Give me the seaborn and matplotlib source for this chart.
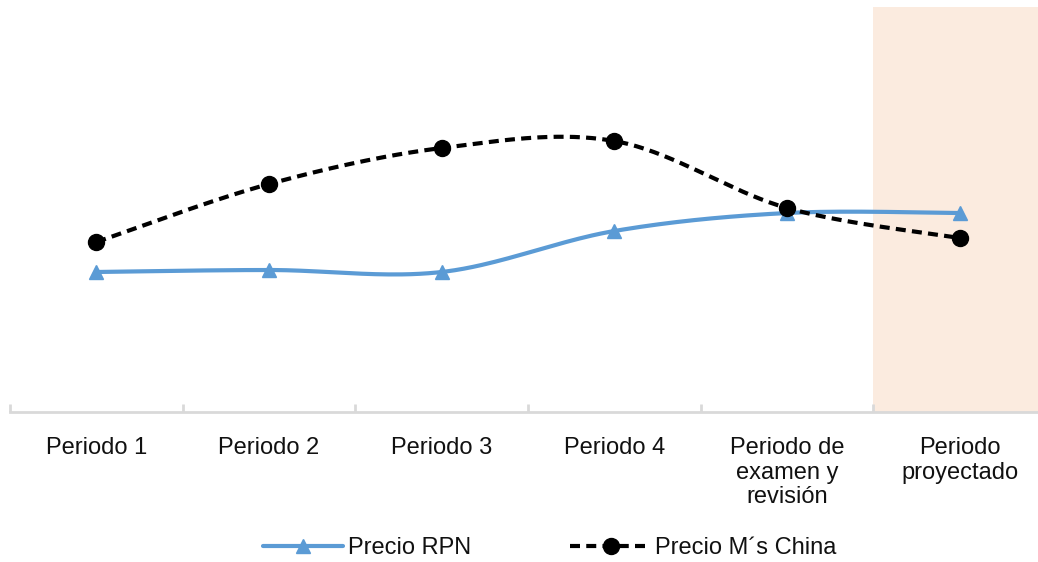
import numpy as np
import pandas as pd
import matplotlib
matplotlib.use("Agg")
import matplotlib.pyplot as plt
import seaborn as sns
from matplotlib.lines import Line2D

categories = ["Periodo 1", "Periodo 2", "Periodo 3", "Periodo 4",
              "Periodo de\nexamen y\nrevisión", "Periodo\nproyectado"]
precio_rpn = [140, 142, 140, 181, 199, 199]
precio_china = [170, 228, 264, 271, 204, 174]
series_names = ["Precio RPN", "Precio M´s China"]

sns.set_theme(style="white")
plt.rcParams['font.family'] = ['Liberation Sans', 'DejaVu Sans']


def smooth(xs, ys, n=40):
    # Excel-like Bezier smoothing (Catmull-Rom, tension 1/6)
    xs = np.asarray(xs, float); ys = np.asarray(ys, float)
    px = np.concatenate([[xs[0]], xs, [xs[-1]]])
    py = np.concatenate([[ys[0]], ys, [ys[-1]]])
    outx, outy = [], []
    for i in range(1, len(px) - 2):
        p0 = np.array([px[i - 1], py[i - 1]]); p1 = np.array([px[i], py[i]])
        p2 = np.array([px[i + 1], py[i + 1]]); p3 = np.array([px[i + 2], py[i + 2]])
        c1 = p1 + (p2 - p0) / 6.0
        c2 = p2 - (p3 - p1) / 6.0
        t = np.linspace(0, 1, n)[:, None]
        b = ((1 - t) ** 3) * p1 + 3 * ((1 - t) ** 2) * t * c1 + 3 * (1 - t) * t ** 2 * c2 + t ** 3 * p2
        if i > 1:
            b = b[1:]
        outx.extend(b[:, 0]); outy.extend(b[:, 1])
    return np.array(outx), np.array(outy)


fig = plt.figure(figsize=(10.38, 5.62), dpi=100)
W, H = 1038, 562
left, right, top, bottom = 10, 1046, 7, 412
ax = fig.add_axes([left / W, 1 - bottom / H, (right - left) / W, (bottom - top) / H])

x = np.arange(len(categories))
ax.axvspan(4.5, 5.5, color="#fbebdf", zorder=0, lw=0)

blue = "#5b9bd5"
sx, sy = smooth(x, precio_rpn)
sns.lineplot(x=sx, y=sy, ax=ax, sort=False, color=blue, lw=3.0, zorder=2)
ax.plot(x, precio_rpn, ls="none", marker="^", ms=10, color=blue, zorder=3)

cx, cy = smooth(x, precio_china)
sns.lineplot(x=cx, y=cy, ax=ax, sort=False, color="black", lw=3.0, zorder=4)
ax.lines[-1].set_dashes([2.4, 1.5])
ax.plot(x, precio_china, ls="none", marker="o", ms=11.5, color="black", zorder=5)

ax.set_xlim(-0.5, 5.5)
ax.set_ylim(0, 405)
ax.set_yticks([])
for s in ["top", "right", "left"]:
    ax.spines[s].set_visible(False)
ax.spines["bottom"].set_color("#d9d9d9")
ax.spines["bottom"].set_linewidth(2)
ax.set_xticks(x)
ax.set_xticklabels(categories, fontsize=17, color="#111111", linespacing=1.16, va="top")
ax.set_xticks(np.arange(-0.5, 5.6, 1), minor=True)
ax.tick_params(axis="x", which="major", length=0, pad=18)
ax.tick_params(axis="x", which="minor", direction="in", length=6, width=2, color="#d9d9d9", bottom=True)

handles = [
    Line2D([0], [0], color=blue, lw=3.0, marker="^", ms=10),
    Line2D([0], [0], color="black", lw=3.0, marker="o", ms=11.5, dashes=[2.4, 1.5]),
]
fig.legend(handles, series_names, loc="center", bbox_to_anchor=(550 / W, 1 - 548 / H),
           ncol=2, frameon=False, fontsize=17, handlelength=3.4, columnspacing=4.2,
           handletextpad=0.2, labelcolor="#111111")

fig.savefig("out.png", dpi=100)
